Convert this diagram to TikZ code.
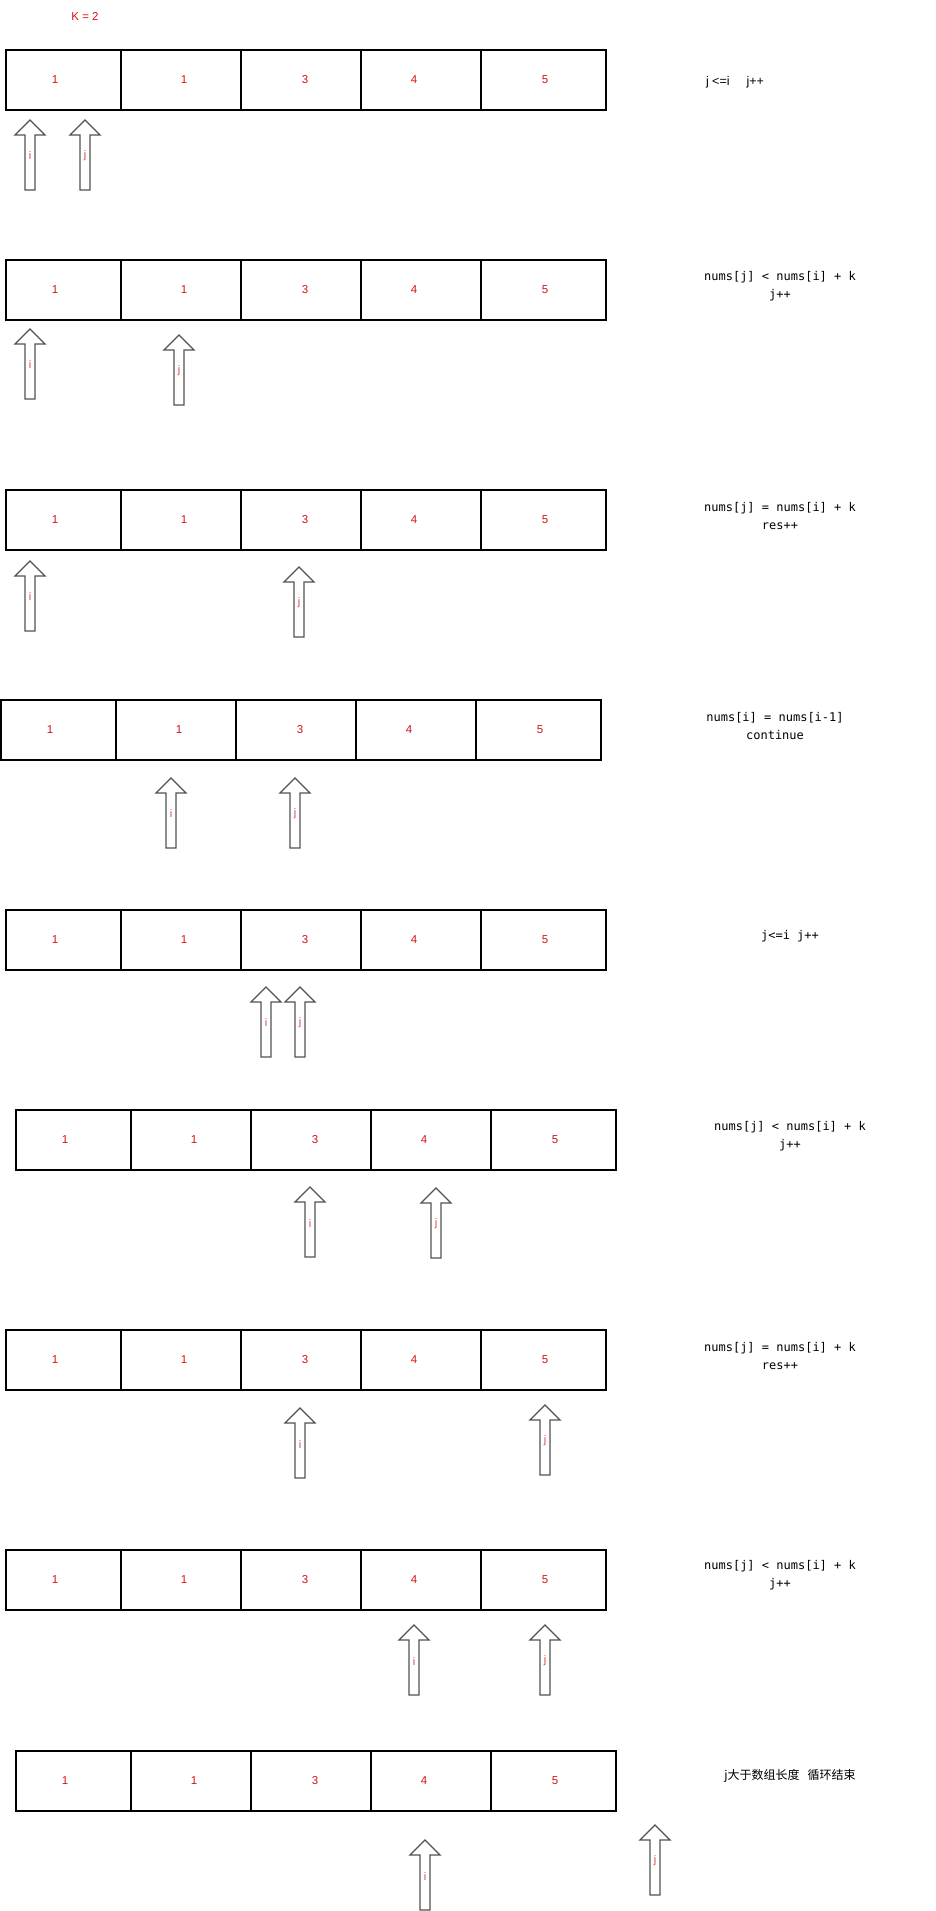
\documentclass[tikz,border=0pt]{standalone}
\usepackage{fontspec}
\setmainfont{Liberation Sans}
\newfontfamily\codefont{DejaVu Sans Mono}
\newfontfamily\cjk{Noto Sans CJK SC}
\usetikzlibrary{calc}

\definecolor{numred}{RGB}{214,18,18}
\definecolor{ptrred}{RGB}{222,70,70}

% one row of the array: name, x shift, top y
\newcommand{\arow}[3]{%
  \foreach \xa/\xb/\xl/\v [count=\c] in {6/121/55/1,121/241/184/1,241/361/305/3,361/481/414/4,481/606/545/5} {
    \draw[cell] (\xa+#2,#3) rectangle (\xb+#2,#3+60);
    \node[num] (#1-\c) at (\xl+#2,#3+30) {\v};
  }}

% block arrow pointing up: name, label, x, tip y
\newcommand{\ptr}[4]{%
  \draw[ptrline] (#3-5,#4+70) -- (#3-5,#4+15) -- (#3-15,#4+15) -- (#3,#4)
    -- (#3+15,#4+15) -- (#3+5,#4+15) -- (#3+5,#4+70) -- cycle;
  \node[ptrlab] (#1) at (#3,#4+36) {#2};}

\begin{document}
\begin{tikzpicture}[x=1pt,y=-1pt]
\tikzstyle{every node}=[inner sep=0pt]
\tikzstyle{cell}=[draw=black,line width=1.2pt]
\tikzstyle{num}=[text=numred,font=\fontsize{11.5}{14}\selectfont]
\tikzstyle{ptrline}=[draw=black!68,line width=1.3pt,fill=white,line join=miter]
\tikzstyle{ptrlab}=[text=ptrred,font=\fontsize{11}{12}\selectfont]
\tikzstyle{note}=[align=center,font=\codefont\fontsize{12}{18}\selectfont]

\useasboundingbox (0,0) rectangle (936,1911);

\node[text=numred,font=\fontsize{11.5}{13}\selectfont] (k) at (85,16) {K = 2};

% rows
\arow{a}{0}{50}
\arow{b}{0}{260}
\arow{c}{0}{490}
\arow{d}{-5}{700}
\arow{e}{0}{910}
\arow{f}{10}{1110}
\arow{g}{0}{1330}
\arow{h}{0}{1550}
\arow{m}{10}{1751}

% pointers
\ptr{i1}{i}{30}{120}  \ptr{j1}{j}{85}{120}
\ptr{i2}{i}{30}{329}  \ptr{j2}{j}{179}{335}
\ptr{i3}{i}{30}{561}  \ptr{j3}{j}{299}{567}
\ptr{i4}{i}{171}{778} \ptr{j4}{j}{295}{778}
\ptr{i5}{i}{266}{987} \ptr{j5}{j}{300}{987}
\ptr{i6}{i}{310}{1187} \ptr{j6}{j}{436}{1188}
\ptr{i7}{i}{300}{1408} \ptr{j7}{j}{545}{1405}
\ptr{i8}{i}{414}{1625} \ptr{j8}{j}{545}{1625}
\ptr{i9}{i}{425}{1840} \ptr{j9}{j}{655}{1825}

% notes
\node[font=\fontsize{12.5}{15}\selectfont] (t1) at (735,82) {j <=i\hspace{17pt}j++};
\node[note] (t2) at (780,286) {nums[j] < nums[i] + k\\j++};
\node[note] (t3) at (780,516) {nums[j] = nums[i] + k\\res++};
\node[note] (t4) at (775,726) {nums[i] = nums[i-1]\\continue};
\node[note] (t5) at (790,936) {j<=i j++};
\node[note] (t6) at (790,1136) {nums[j] < nums[i] + k\\j++};
\node[note] (t7) at (780,1356) {nums[j] = nums[i] + k\\res++};
\node[note] (t8) at (780,1575) {nums[j] < nums[i] + k\\j++};
\node[font=\cjk\fontsize{12}{14}\selectfont] (t9) at (790,1776) {j大于数组长度\hspace{8pt}循环结束};
\end{tikzpicture}
\end{document}
